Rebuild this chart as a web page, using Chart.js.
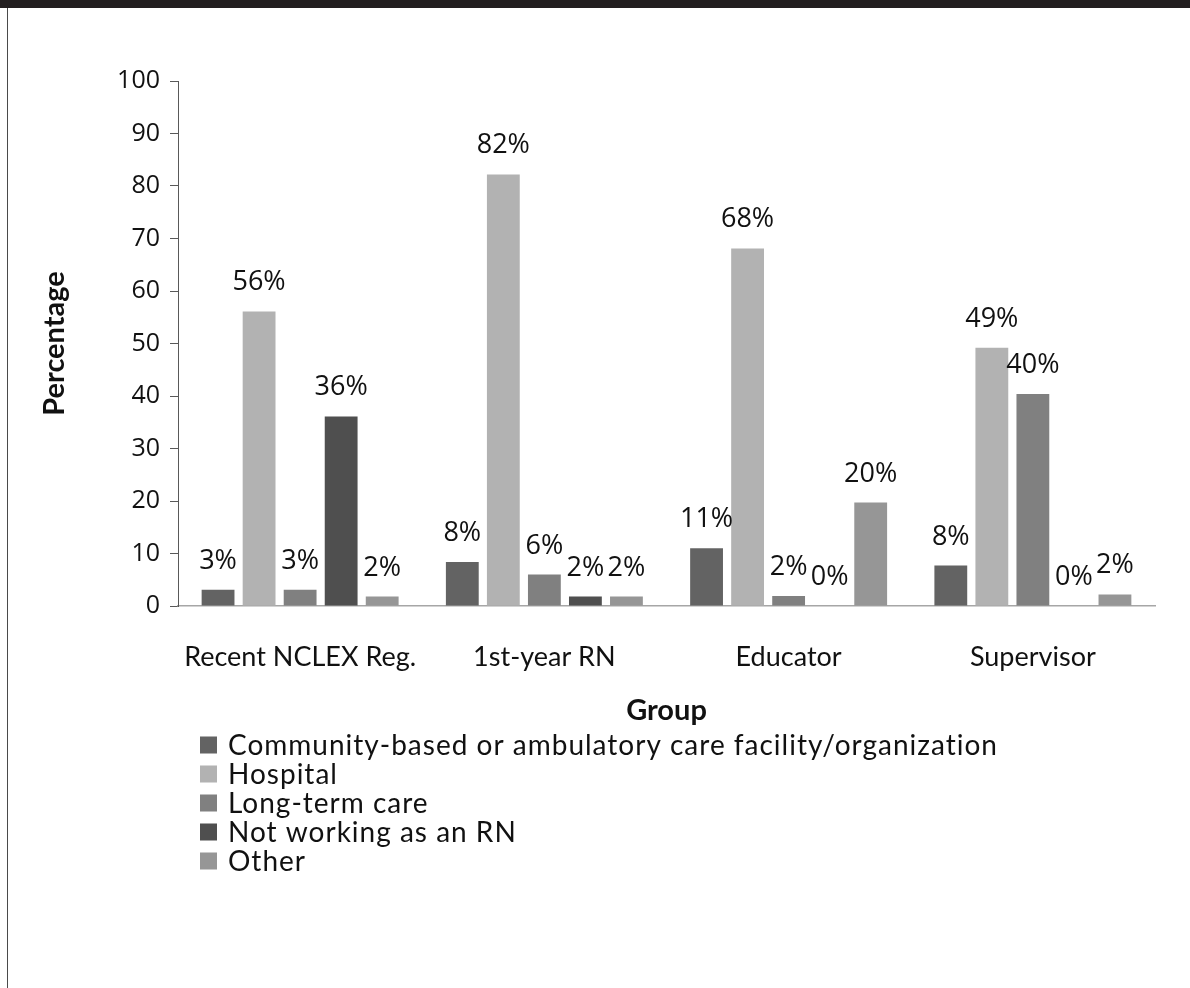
<!DOCTYPE html>
<html>
<head>
<meta charset="utf-8">
<script src="https://cdn.jsdelivr.net/npm/chart.js@4.4.1/dist/chart.umd.min.js"></script>
<style>
  html, body { margin: 0; padding: 0; background: #fff; }
  #page { position: relative; width: 1190px; height: 988px; overflow: hidden; background: #fff; }
  #band { position: absolute; left: 0; top: 0; width: 1190px; height: 8px; background: #231f20; }
  #rule { position: absolute; left: 7px; top: 8px; width: 1px; height: 980px; background: #4a4a4a; }
  #wrap { position: absolute; left: 0; top: 0; width: 1190px; height: 988px; }
</style>
</head>
<body>
<div id="page">
  <div id="wrap"><canvas id="c" width="1190" height="988"></canvas></div>
  <div id="band"></div>
  <div id="rule"></div>
</div>
<script>
// Work setting by respondent group (percent of respondents)
const groups = ['Recent NCLEX Reg.', '1st-year RN', 'Educator', 'Supervisor'];
const settings = [
  'Community-based or ambulatory care facility/organization',
  'Hospital',
  'Long-term care',
  'Not working as an RN',
  'Other'
];
const community    = [3.1, 8.4, 11.0, 7.7];
const hospital     = [56.1, 82.2, 68.1, 49.2];
const longTermCare = [3.1, 6.0, 1.9, 40.4];
const notWorking   = [36.1, 1.8, 0, 0];
const other        = [1.8, 1.8, 19.7, 2.2];
const yTicks = [0, 10, 20, 30, 40, 50, 60, 70, 80, 90, 100];

const seriesValues = [community, hospital, longTermCare, notWorking, other];
const seriesColors = ['#636363', '#b2b2b2', '#808080', '#4f4f4f', '#969696'];

// Percent labels above each bar
const barValueLabels = {
  id: 'barValueLabels',
  afterDatasetsDraw(chart, args, opts) {
    const ctx = chart.ctx;
    ctx.save();
    ctx.font = `${opts.size}px ${opts.family}`;
    ctx.fillStyle = opts.color;
    ctx.textAlign = 'center';
    ctx.textBaseline = 'alphabetic';
    chart.data.datasets.forEach((ds, i) => {
      const meta = chart.getDatasetMeta(i);
      meta.data.forEach((bar, j) => {
        const v = ds.data[j];
        ctx.fillText(Math.round(v) + '%', bar.x, bar.y - opts.gap);
      });
    });
    ctx.restore();
  }
};

// Stacked list legend under the axis title
const listLegend = {
  id: 'listLegend',
  afterDraw(chart, args, opts) {
    const ctx = chart.ctx;
    ctx.save();
    ctx.font = `${opts.size}px ${opts.family}`;
    ctx.letterSpacing = opts.spacing;
    ctx.textAlign = 'left';
    ctx.textBaseline = 'middle';
    chart.data.datasets.forEach((ds, i) => {
      const y = opts.top + i * opts.rowHeight;
      ctx.fillStyle = ds.backgroundColor;
      ctx.fillRect(opts.left, y - opts.box / 2, opts.box, opts.box);
      ctx.fillStyle = opts.color;
      ctx.fillText(ds.label, opts.left + opts.box + opts.gap, y + 1);
    });
    ctx.restore();
  }
};

new Chart(document.getElementById('c'), {
  type: 'bar',
  data: {
    labels: groups,
    datasets: settings.map((name, i) => ({
      label: name,
      data: seriesValues[i],
      backgroundColor: seriesColors[i],
      borderWidth: 0,
      categoryPercentage: 0.84,
      barPercentage: 0.8
    }))
  },
  options: {
    responsive: false,
    devicePixelRatio: 1,
    animation: false,
    layout: { padding: { left: 30, right: 35, top: 81, bottom: 260 } },
    plugins: {
      legend: { display: false },
      tooltip: { enabled: false },
      barValueLabels: { family: '"Open Sans"', size: 27, color: '#111', gap: 21 },
      listLegend: { family: 'Lato', size: 28, spacing: '1px', color: '#111', left: 200, top: 745, rowHeight: 29, box: 17, gap: 11 }
    },
    scales: {
      x: {
        grid: { display: false, drawTicks: false },
        border: { color: '#a6a6a6', width: 1.5 },
        ticks: { font: { family: 'Lato', size: 27 }, color: '#111', padding: 35 },
        title: {
          display: true, text: 'Group', color: '#111',
          font: { family: 'Lato', size: 29, weight: 'bold' },
          padding: { top: 0, bottom: 0 }
        },
        afterFit: s => { s.height = 122; }
      },
      y: {
        min: 0, max: 100,
        afterBuildTicks: s => { s.ticks = yTicks.map(v => ({ value: v })); },
        ticks: { font: { family: '"Open Sans"', size: 25 }, color: '#111', padding: 10 },
        grid: { drawOnChartArea: false, tickLength: 8, color: '#595959' },
        border: { color: '#595959', width: 1 },
        title: {
          display: true, text: 'Percentage', color: '#111',
          font: { family: 'Lato', size: 29, weight: 'bold' },
          padding: { top: 7, bottom: 0 }
        },
        afterFit: s => { s.width = 148; }
      }
    }
  },
  plugins: [barValueLabels, listLegend]
});
</script>
</body>
</html>
